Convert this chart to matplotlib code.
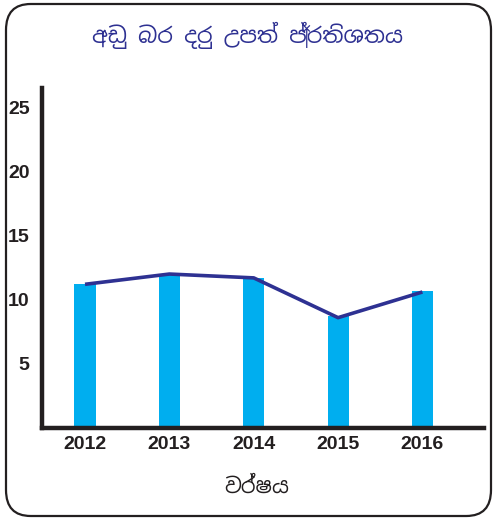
import matplotlib
matplotlib.use("Agg")
import matplotlib.pyplot as plt
from matplotlib.patches import FancyBboxPatch
from matplotlib import font_manager

years = ["2012", "2013", "2014", "2015", "2016"]
bar_values = [11.2, 12.0, 11.7, 8.7, 10.7]
line_values = [11.2, 12.0, 11.7, 8.6, 10.6]
y_ticks = [5, 10, 15, 20, 25]
title_text = "අඩු බර දරු උපත් ප්‍රතිශතය"
xlabel_text = "වර්ෂය"

# pick a Sinhala-capable family if one happens to be installed
names = {f.name for f in font_manager.fontManager.ttflist}
sinhala = [n for n in ["Noto Sans Sinhala", "Noto Serif Sinhala", "Iskoola Pota", "LKLUG"] if n in names]
si_family = sinhala + ["DejaVu Sans"]

fig = plt.figure(figsize=(4.94, 5.2), dpi=100)
ax = fig.add_axes([42 / 494, (520 - 428) / 520, (484 - 42) / 494, (428 - 88) / 520])

x = range(len(years))
ax.bar(x, bar_values, width=0.25, color="#00aeef", zorder=2)
ax.plot(x, line_values, color="#2e3192", lw=2.6, zorder=3, solid_capstyle="butt")

ax.set_xlim(-0.51, 4.73)
ax.set_ylim(0, 26.5)
ax.set_xticks(list(x))
ax.set_xticklabels(years)
ax.set_yticks(y_ticks)
ax.tick_params(length=0, labelsize=14, pad=9, colors="#231f20")
for lbl in ax.get_xticklabels() + ax.get_yticklabels():
    lbl.set_fontweight("bold")
    lbl.set_family("Liberation Sans")
ax.tick_params(axis="x", pad=6)

for s in ["top", "right"]:
    ax.spines[s].set_visible(False)
for s in ["left", "bottom"]:
    ax.spines[s].set_linewidth(3.2)
    ax.spines[s].set_color("#231f20")

fig.text(247 / 494, 1 - 35 / 520, title_text, ha="center", va="center",
         fontsize=16, color="#2e3192", family=si_family)
fig.text(257 / 494, 1 - 487 / 520, xlabel_text, ha="center", va="center",
         fontsize=15, color="#231f20", family=si_family)

frame = FancyBboxPatch((6 / 494, 4 / 520), 485 / 494, 512 / 520,
                       boxstyle="round,pad=0,rounding_size=0.05",
                       transform=fig.transFigure, fill=False,
                       edgecolor="#231f20", lw=1.6)
fig.patches.append(frame)

fig.savefig("out.png", dpi=100)
